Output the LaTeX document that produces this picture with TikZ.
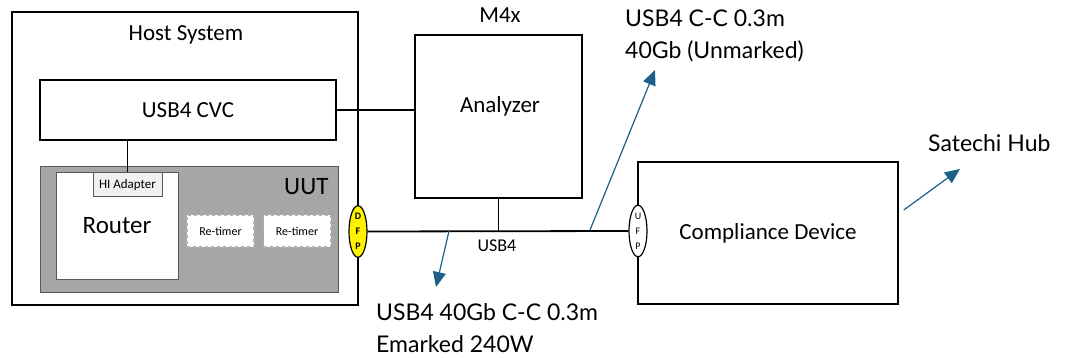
\documentclass[tikz,border=0pt]{standalone}
\usepackage{fontspec}
\setmainfont{Carlito}
\newfontfamily\notefont{Lato}
\usetikzlibrary{arrows.meta, positioning, shapes.geometric}
\definecolor{callout}{RGB}{28,96,136}
\definecolor{uutgray}{RGB}{166,166,166}

\begin{document}
\begin{tikzpicture}[x=1pt, y=-1pt, font=\fontsize{23}{26}\selectfont, >=stealth,
    box/.style={draw, line width=1.5pt, inner sep=0pt},
    retimer/.style={draw=gray!60, dashed, line width=1.4pt, fill=white, minimum width=67pt, minimum height=32pt, font=\fontsize{12}{14}\selectfont},
    port/.style={draw, ellipse, line width=1.2pt, minimum width=18pt, minimum height=50pt, inner sep=0pt, align=center, font=\fontsize{10}{15}\selectfont},
    link/.style={line width=1.8pt},
    note/.style={callout, line width=1.2pt, -{Triangle[length=15pt, width=13pt]}},
    notetext/.style={font=\notefont\fontsize{23}{32}\selectfont, align=left, anchor=base west, inner sep=0pt}]
    \fill[white] (0,0) rectangle (1068,358);
    \useasboundingbox (0,0) rectangle (1068,358);

    % host side
    \node[box, minimum width=346pt, minimum height=293pt] (host) at (185,158.5) {};
    \node (hosttitle) at (186,35) {Host System};
    \node[box, minimum width=296pt, minimum height=60pt] (cvc) at (188,110) {USB4 CVC};
    \node[draw=gray!70!black, fill=uutgray, minimum width=298pt, minimum height=126pt] (uut) at (189,229) {};
    \node[anchor=east, font=\fontsize{25}{27}\selectfont] (uutlabel) at (332,187) {UUT};
    \node[draw=gray!70!black, line width=1pt, fill=white, minimum width=122pt, minimum height=106pt, font=\fontsize{25}{28}\selectfont] (router) at (117,226) {Router};
    \node[draw=gray!70!black, line width=1pt, fill=gray!12, minimum width=69pt, minimum height=24pt, font=\fontsize{13}{15}\selectfont] (hi) at (127.5,185) {HI Adapter};
    \node[retimer] (rt1) at (220.5,231) {Re-timer};
    \node[retimer] (rt2) at (297,231) {Re-timer};
    \node[port, fill=yellow, font=\fontsize{10}{15}\selectfont\bfseries] (dfp) at (358,231.5) {D\\F\\P};

    % analyzer
    \node[box, minimum width=167pt, minimum height=163pt] (analyzer) at (498.5,116.5) {};
    \node (analyzertext) at (500,106) {Analyzer};
    \node (m4x) at (500,15) {M4x};

    % device side
    \node[box, minimum width=260pt, minimum height=142pt] (comp) at (768,233) {Compliance Device};
    \node[port, fill=white] (ufp) at (638,231) {U\\F\\P};

    \draw[link] (cvc.south -| hi.north) -- (hi.north);
    \draw[link] (cvc.east) -- (cvc.east -| analyzer.west);
    \draw[link] (dfp.east) -- (ufp.west);
    \draw[link] (analyzer.south) -- (analyzer.south |- dfp.east);
    \node[font=\fontsize{18}{20}\selectfont] (usb4) at (497,246) {USB4};

    % cable notes
    \coordinate (cab1) at (449,231);
    \coordinate (cab1tip) at (436,287);
    \coordinate (cab2) at (590,230);
    \coordinate (cab2tip) at (655,70);
    \coordinate (hubtip) at (960,169);
    \draw[note] (cab1) -- (cab1tip);
    \draw[note] (cab2) -- (cab2tip);
    \draw[note] (comp.east |- 0,210) ++(5,0) -- (hubtip);
    \node[notetext] (emarked) at (376,352) {USB4 40Gb C-C 0.3m\\Emarked 240W};
    \node[notetext] (unmarked) at (625,59) {USB4 C-C 0.3m\\40Gb (Unmarked)};
    \node[notetext] (hub) at (928,152) {Satechi Hub};
\end{tikzpicture}
\end{document}
